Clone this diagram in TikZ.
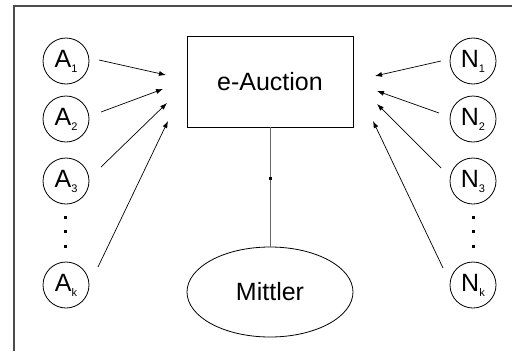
\documentclass[tikz,border=0pt]{standalone}
\usepackage{fontspec}
\setmainfont{Liberation Sans}
\usetikzlibrary{arrows.meta,shapes.geometric,calc}
\newcommand\lowidx[1]{\raisebox{-5pt}{\fontsize{11}{12}\selectfont #1}}
\begin{document}
\begin{tikzpicture}[x=1pt,y=-1pt,
  label font/.style={font=\fontsize{25}{30}\selectfont},
  party/.style={circle,draw,line width=0.8pt,minimum size=46pt,inner sep=0pt,label font},
  auction/.style={rectangle,draw,line width=0.8pt,minimum width=166pt,minimum height=91pt,inner sep=0pt,label font},
  broker/.style={ellipse,draw,line width=0.8pt,minimum width=166pt,minimum height=90pt,inner sep=0pt,label font},
  bid/.style={line width=0.7pt,-{Latex[length=7pt,width=5pt]}},
  frameline/.style={line width=1.1pt,black!70},
  dotmark/.style={fill=black}]
\useasboundingbox (0,0) rectangle (518,351);

% open frame: top and left edges only
\draw[frameline] (14,351) -- (14,6) -- (512,6);

% central nodes
\node[auction] (auc) at (270,81.5) {e-Auction};
\node[broker] (mit) at (270,292) {Mittler};
\draw[line width=0.8pt,black!60] (auc.south) -- (mit.north);
\fill[dotmark] ($(auc.south)!0.425!(mit.north)$) +(-1.5,-1.5) rectangle +(1.5,1.5);

% bidders on the left
\node[party] (A1) at (66,61) {A\lowidx{1}};
\node[party] (A2) at (66,119) {A\lowidx{2}};
\node[party] (A3) at (66,181) {A\lowidx{3}};
\node[party] (Ak) at (66,285) {A\lowidx{k}};
\foreach \yy in {217,231,246} \fill[dotmark] (65.5,\yy) +(-1.5,-1.5) rectangle +(1.5,1.5);

% bidders on the right
\node[party] (N1) at (473,61) {N\lowidx{1}};
\node[party] (N2) at (473,119) {N\lowidx{2}};
\node[party] (N3) at (473,181) {N\lowidx{3}};
\node[party] (Nk) at (473,285) {N\lowidx{k}};
\foreach \yy in {217,231,246} \fill[dotmark] (473.5,\yy) +(-1.5,-1.5) rectangle +(1.5,1.5);

% arrow tips in front of the auction box
\coordinate (a1) at (166,75);
\coordinate (a2) at (163,89);
\coordinate (a3) at (167,103);
\coordinate (ak) at (168,121);
\coordinate (n1) at (375,76);
\coordinate (n2) at (377,91);
\coordinate (n3) at (377,104);
\coordinate (nk) at (373,121);

\draw[bid] ($(A1)+(33,-1)$) -- (a1);
\draw[bid] ($(A2)+(35,-7)$) -- (a2);
\draw[bid] ($(A3)+(35,-14)$) -- (a3);
\draw[bid] ($(Ak)+(32,-18)$) -- (ak);
\draw[bid] ($(N1)+(-32,0)$) -- (n1);
\draw[bid] ($(N2)+(-34,-6)$) -- (n2);
\draw[bid] ($(N3)+(-32,-13)$) -- (n3);
\draw[bid] ($(Nk)+(-30,-17)$) -- (nk);
\end{tikzpicture}
\end{document}
